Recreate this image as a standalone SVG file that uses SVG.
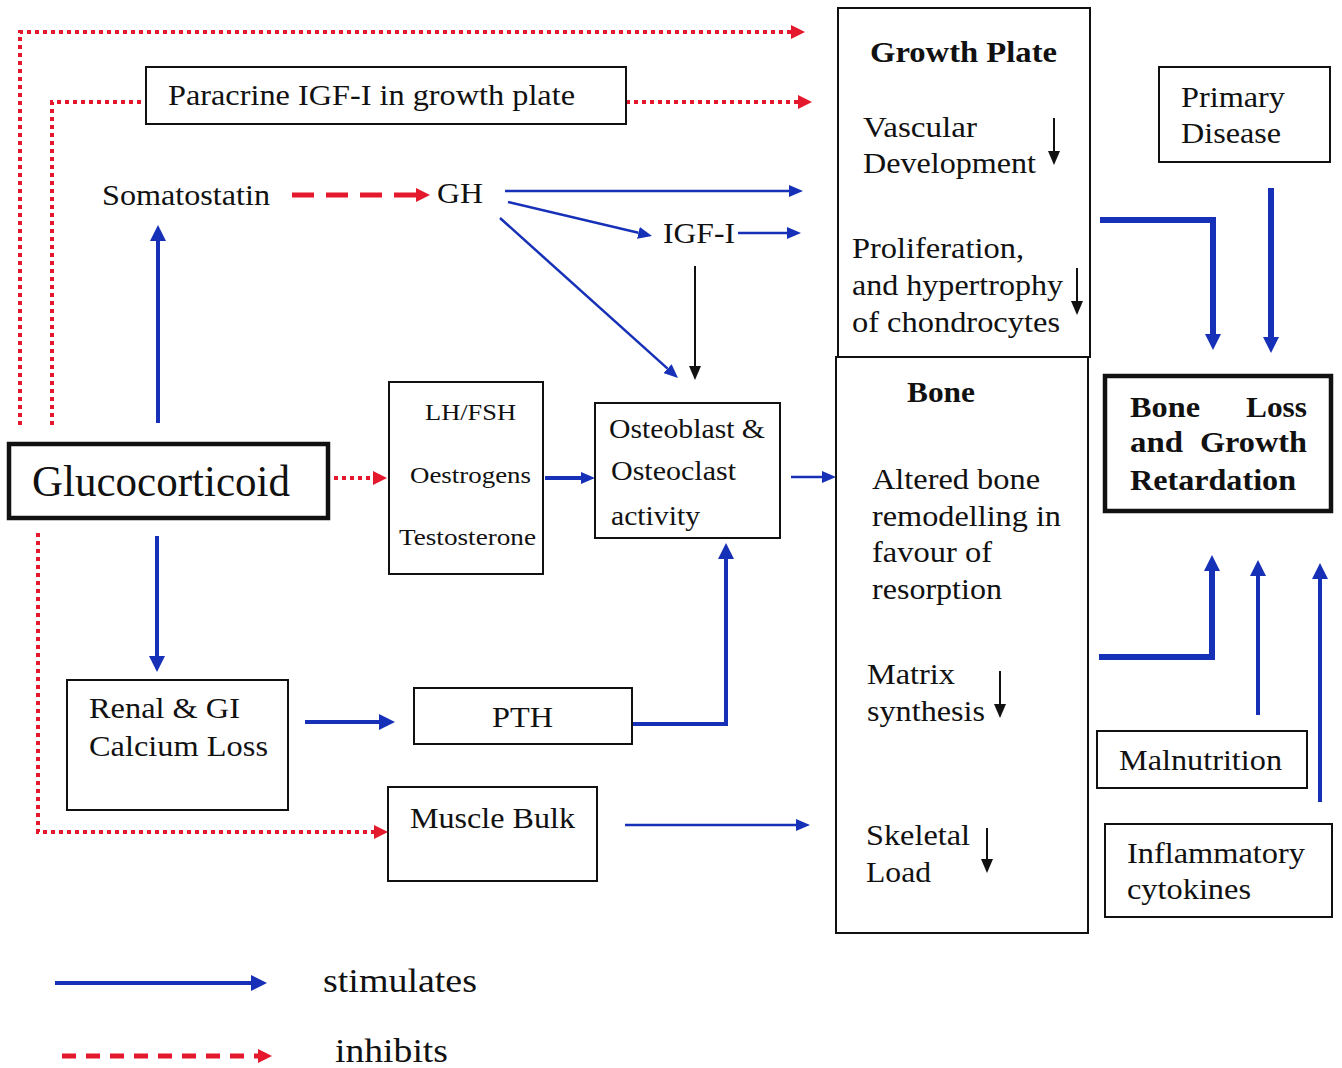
<svg xmlns="http://www.w3.org/2000/svg" width="1342" height="1068" viewBox="0 0 1342 1068">
<style>
text{font-family:"Liberation Serif",Tinos,"Times New Roman",Times,"Nimbus Roman",serif;fill:#111;}
.t{font-size:30px;}
.tb{font-size:30px;font-weight:bold;}
.box{fill:#fff;stroke:#111;stroke-width:2;}
.bx{fill:#fff;stroke:#111;stroke-width:4.5;}
.b1{fill:none;stroke:#1630b8;stroke-width:2.5;}
.b2{fill:none;stroke:#1630b8;stroke-width:4;}
.b3{fill:none;stroke:#1630b8;stroke-width:6;}
.rd{fill:none;stroke:#e5192d;stroke-width:4;stroke-dasharray:4 4;}
.rdash{fill:none;stroke:#e5192d;stroke-width:5;stroke-dasharray:22 12;}
.rleg{fill:none;stroke:#e5192d;stroke-width:5;stroke-dasharray:14 10;}
.k{fill:none;stroke:#111;stroke-width:2;}
</style>
<defs>
<marker id="bs" markerUnits="userSpaceOnUse" markerWidth="14" markerHeight="12" refX="0" refY="6" orient="auto"><path d="M0,0 L14,6 L0,12 z" fill="#1630b8"/></marker>
<marker id="bl" markerUnits="userSpaceOnUse" markerWidth="16" markerHeight="16" refX="0" refY="8" orient="auto"><path d="M0,0 L16,8 L0,16 z" fill="#1630b8"/></marker>
<marker id="rh" markerUnits="userSpaceOnUse" markerWidth="14" markerHeight="14" refX="0" refY="7" orient="auto"><path d="M0,0 L14,7 L0,14 z" fill="#e5192d"/></marker>
<marker id="kh" markerUnits="userSpaceOnUse" markerWidth="14" markerHeight="12" refX="0" refY="6" orient="auto"><path d="M0,0 L14,6 L0,12 z" fill="#111"/></marker>
</defs>
<rect width="1342" height="1068" fill="#fff"/>

<g id="connectors">
<path class="rd" d="M20,425 V32 H791" marker-end="url(#rh)"/>
<path class="rd" d="M52,425 V102 H146"/>
<path class="rd" d="M626,102 H798" marker-end="url(#rh)"/>
<path class="rdash" d="M292,195 H416" marker-end="url(#rh)"/>
<path class="b1" d="M505,191 H789" marker-end="url(#bs)"/>
<path class="b1" d="M508,202 L638.4,232.8" marker-end="url(#bs)"/>
<path class="b1" d="M738,233 H787" marker-end="url(#bs)"/>
<path class="b1" d="M500,218 L667.6,368.6" marker-end="url(#bs)"/>
<path class="k" d="M695,266 V366" marker-end="url(#kh)"/>
<path class="b2" d="M158,423 V241" marker-end="url(#bl)"/>
<path class="rd" d="M334,478 H373" marker-end="url(#rh)"/>
<path class="b2" d="M545,478 H581" marker-end="url(#bs)"/>
<path class="b1" d="M791,477 H822" marker-end="url(#bs)"/>
<path class="b2" d="M157,536 V656" marker-end="url(#bl)"/>
<path class="rd" d="M38,533 V832 H374" marker-end="url(#rh)"/>
<path class="b2" d="M305,722 H379" marker-end="url(#bl)"/>
<path class="b2" d="M632,724 H726 V559" marker-end="url(#bl)"/>
<path class="b1" d="M625,825 H796" marker-end="url(#bs)"/>
<path class="b3" d="M1100,220 H1213 V334" marker-end="url(#bl)"/>
<path class="b3" d="M1271,188 V337" marker-end="url(#bl)"/>
<path class="b3" d="M1099,657 H1212 V571" marker-end="url(#bl)"/>
<path class="b2" d="M1258,715 V576" marker-end="url(#bl)"/>
<path class="b2" d="M1320,802 V579" marker-end="url(#bl)"/>
</g>

<g id="paracrine">
<rect class="box" x="146" y="67" width="480" height="57"/>
<text class="t" x="168" y="105" textLength="407" lengthAdjust="spacingAndGlyphs">Paracrine IGF-I in growth plate</text>
</g>
<g id="somatostatin">
<text class="t" x="102" y="205" textLength="168" lengthAdjust="spacingAndGlyphs">Somatostatin</text>
</g>
<g id="gh">
<text class="t" x="437" y="203" textLength="46" lengthAdjust="spacingAndGlyphs">GH</text>
</g>
<g id="igf1">
<text class="t" x="663" y="243" textLength="72" lengthAdjust="spacingAndGlyphs">IGF-I</text>
</g>
<g id="glucocorticoid">
<rect class="bx" x="9" y="444" width="319" height="74"/>
<text x="32" y="496" font-size="44" textLength="258" lengthAdjust="spacingAndGlyphs">Glucocorticoid</text>
</g>
<g id="hormones">
<rect class="box" x="389" y="382" width="154" height="192"/>
<text x="425" y="420" font-size="24" textLength="91" lengthAdjust="spacingAndGlyphs">LH/FSH</text>
<text x="410" y="483" font-size="24" textLength="121" lengthAdjust="spacingAndGlyphs">Oestrogens</text>
<text x="399" y="545" font-size="24" textLength="137" lengthAdjust="spacingAndGlyphs">Testosterone</text>
</g>
<g id="osteo">
<rect class="box" x="595" y="403" width="185" height="135"/>
<text x="609" y="438" font-size="28" textLength="156" lengthAdjust="spacingAndGlyphs">Osteoblast &amp;</text>
<text x="611" y="480" font-size="28" textLength="125" lengthAdjust="spacingAndGlyphs">Osteoclast</text>
<text x="611" y="525" font-size="28" textLength="89" lengthAdjust="spacingAndGlyphs">activity</text>
</g>
<g id="renal">
<rect class="box" x="67" y="680" width="221" height="130"/>
<text class="t" x="89" y="718" textLength="151" lengthAdjust="spacingAndGlyphs">Renal &amp; GI</text>
<text class="t" x="89" y="756" textLength="179" lengthAdjust="spacingAndGlyphs">Calcium Loss</text>
</g>
<g id="pth">
<rect class="box" x="414" y="688" width="218" height="56"/>
<text class="t" x="492" y="727" textLength="61" lengthAdjust="spacingAndGlyphs">PTH</text>
</g>
<g id="muscle">
<rect class="box" x="388" y="787" width="209" height="94"/>
<text class="t" x="410" y="828" textLength="165" lengthAdjust="spacingAndGlyphs">Muscle Bulk</text>
</g>
<g id="growthplate">
<rect class="box" x="838" y="8" width="252" height="349"/>
<text class="tb" x="870" y="62" textLength="187" lengthAdjust="spacingAndGlyphs">Growth Plate</text>
<text class="t" x="863" y="137" textLength="114" lengthAdjust="spacingAndGlyphs">Vascular</text>
<text class="t" x="863" y="173" textLength="173" lengthAdjust="spacingAndGlyphs">Development</text>
<path class="k" d="M1054,118 V151" marker-end="url(#kh)"/>
<text class="t" x="852" y="258" textLength="172" lengthAdjust="spacingAndGlyphs">Proliferation,</text>
<text class="t" x="852" y="295" textLength="211" lengthAdjust="spacingAndGlyphs">and hypertrophy</text>
<text class="t" x="852" y="332" textLength="208" lengthAdjust="spacingAndGlyphs">of chondrocytes</text>
<path class="k" d="M1077,268 V301" marker-end="url(#kh)"/>
</g>
<g id="bone">
<rect class="box" x="836" y="357" width="252" height="576"/>
<text class="tb" x="907" y="402" textLength="68" lengthAdjust="spacingAndGlyphs">Bone</text>
<text class="t" x="872" y="489" textLength="168" lengthAdjust="spacingAndGlyphs">Altered bone</text>
<text class="t" x="872" y="526" textLength="189" lengthAdjust="spacingAndGlyphs">remodelling in</text>
<text class="t" x="872" y="562" textLength="120" lengthAdjust="spacingAndGlyphs">favour of</text>
<text class="t" x="872" y="599" textLength="130" lengthAdjust="spacingAndGlyphs">resorption</text>
<text class="t" x="867" y="684" textLength="88" lengthAdjust="spacingAndGlyphs">Matrix</text>
<text class="t" x="867" y="721" textLength="118" lengthAdjust="spacingAndGlyphs">synthesis</text>
<path class="k" d="M1000,671 V704" marker-end="url(#kh)"/>
<text class="t" x="866" y="845" textLength="104" lengthAdjust="spacingAndGlyphs">Skeletal</text>
<text class="t" x="866" y="882" textLength="65" lengthAdjust="spacingAndGlyphs">Load</text>
<path class="k" d="M987,828 V859" marker-end="url(#kh)"/>
</g>
<g id="primary">
<rect class="box" x="1159" y="67" width="171" height="95"/>
<text class="t" x="1181" y="107" textLength="104" lengthAdjust="spacingAndGlyphs">Primary</text>
<text class="t" x="1181" y="143" textLength="100" lengthAdjust="spacingAndGlyphs">Disease</text>
</g>
<g id="boneloss">
<rect class="bx" x="1105" y="376" width="226" height="135"/>
<text class="tb" x="1130" y="417" textLength="70" lengthAdjust="spacingAndGlyphs">Bone</text>
<text class="tb" x="1246" y="417" textLength="61" lengthAdjust="spacingAndGlyphs">Loss</text>
<text class="tb" x="1130" y="452" textLength="53" lengthAdjust="spacingAndGlyphs">and</text>
<text class="tb" x="1200" y="452" textLength="107" lengthAdjust="spacingAndGlyphs">Growth</text>
<text class="tb" x="1130" y="490" textLength="166" lengthAdjust="spacingAndGlyphs">Retardation</text>
</g>
<g id="malnutrition">
<rect class="box" x="1097" y="731" width="210" height="57"/>
<text class="t" x="1119" y="770" textLength="163" lengthAdjust="spacingAndGlyphs">Malnutrition</text>
</g>
<g id="inflammatory">
<rect class="box" x="1105" y="824" width="227" height="93"/>
<text class="t" x="1127" y="863" textLength="178" lengthAdjust="spacingAndGlyphs">Inflammatory</text>
<text class="t" x="1127" y="899" textLength="124" lengthAdjust="spacingAndGlyphs">cytokines</text>
</g>
<g id="legend">
<path class="b2" d="M55,983 H251" marker-end="url(#bl)"/>
<text x="323" y="992" font-size="34" textLength="154" lengthAdjust="spacingAndGlyphs">stimulates</text>
<path class="rleg" d="M62,1056 H258" marker-end="url(#rh)"/>
<text x="335" y="1062" font-size="34" textLength="113" lengthAdjust="spacingAndGlyphs">inhibits</text>
</g>
</svg>
